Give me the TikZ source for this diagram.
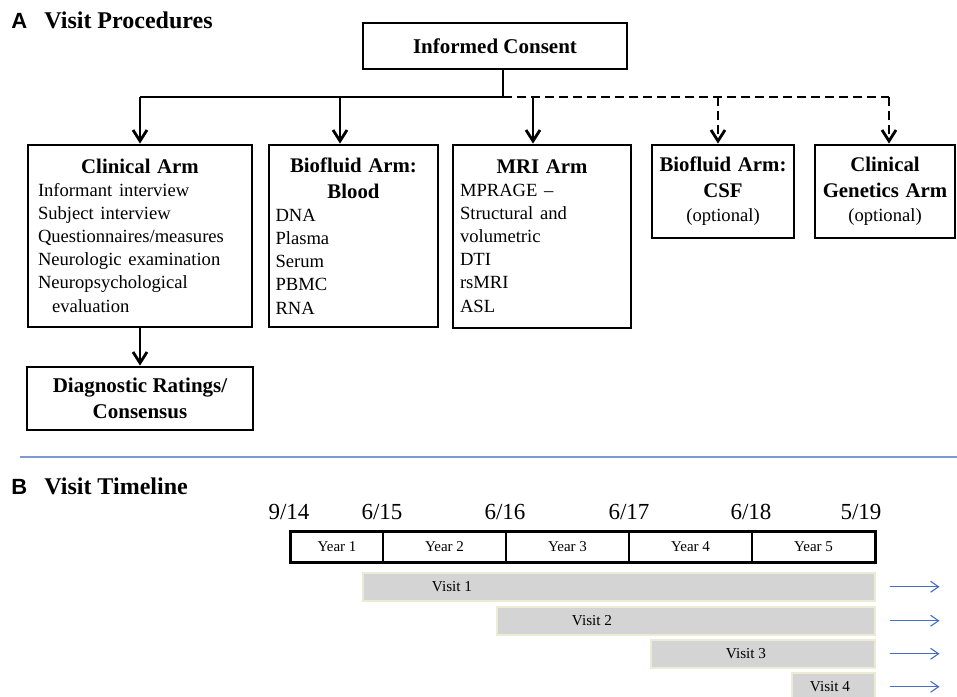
\documentclass[tikz,border=0pt]{standalone}
\usepackage{fontspec}
\setmainfont{Liberation Serif}
\newfontfamily\panelfont{Liberation Sans}
\usetikzlibrary{arrows.meta}
\usetikzlibrary{calc}

\definecolor{barfill}{RGB}{212,212,212}
\definecolor{baredge}{RGB}{236,236,214}
\definecolor{rulecol}{RGB}{125,155,210}
\definecolor{laterblue}{RGB}{70,110,195}

\newcommand{\boxtitle}{\fontsize{10.4}{13}\selectfont\bfseries}
\newcommand{\boxitem}{\fontsize{9.3}{11.5}\selectfont}

\begin{document}
\begin{tikzpicture}[x=0.5pt,y=-0.5pt,
  armbox/.style={draw, line width=1.4pt, inner xsep=3pt, inner ysep=0pt, align=left},
  flow/.style={line width=1.4pt, -{Straight Barb[length=5.5pt,width=7pt]}},
  optional/.style={dash pattern=on 4.5pt off 2.5pt},
  yearcell/.style={draw, line width=0.6pt, minimum height=15pt, inner sep=0pt, font=\fontsize{7.5}{9}\selectfont},
  visitbar/.style={draw=baredge, line width=0.75pt, fill=barfill, anchor=north west, minimum height=14pt, inner sep=0pt},
  later/.style={draw=laterblue, line width=0.55pt, -{Straight Barb[length=4pt,width=5.5pt]}}]
\useasboundingbox (0,0) rectangle (957,696);

% A: visit procedures
\node[anchor=west, inner sep=0pt, font=\panelfont\fontsize{11}{13}\selectfont\bfseries] (labA) at (11,21) {A};
\node[anchor=west, inner sep=0pt, font=\fontsize{12}{14}\selectfont\bfseries] (titleA) at (44,20) {Visit Procedures};

\node[draw, line width=1.4pt, minimum width=132pt, minimum height=23pt, font=\fontsize{10.5}{13}\selectfont\bfseries] (consent) at (495,46) {Informed Consent};

\node[armbox, minimum width=112pt, minimum height=91pt, text width=102pt] (clinical) at (140,236) {%
  {\centering\boxtitle Clinical Arm\par}\boxitem
  Informant interview\\Subject interview\\Questionnaires/measures\\Neurologic examination\\Neuropsychological\\\hspace*{7pt}evaluation};
\node[armbox, minimum width=84.5pt, minimum height=91pt, text width=78pt] (blood) at (353.5,236) {%
  {\centering\boxtitle Biofluid Arm:\\Blood\par}\boxitem
  DNA\\Plasma\\Serum\\PBMC\\RNA};
\node[armbox, minimum width=89pt, minimum height=91.5pt, text width=82pt] (mri) at (542,236.5) {%
  {\centering\boxtitle MRI Arm\par}\boxitem
  MPRAGE --\\Structural and\\volumetric\\DTI\\rsMRI\\ASL};
\node[armbox, align=center, minimum width=71pt, minimum height=46.5pt, text width=65pt] (csf) at (723,191.5) {%
  {\boxtitle Biofluid Arm:\\CSF\par}\boxitem (optional)};
\node[armbox, align=center, minimum width=70pt, minimum height=46.5pt, text width=64pt] (genetics) at (885,191.5) {%
  {\boxtitle Clinical\\Genetics Arm\par}\boxitem (optional)};

\node[draw, line width=1.4pt, minimum width=113pt, minimum height=31.5pt, align=center, font=\fontsize{10.5}{13}\selectfont\bfseries] (diag) at (140,398.5) {Diagnostic Ratings/\\Consensus};

% bus from consent to the arms
\coordinate (split) at (503,97);
\coordinate (tapblood) at (340,97);
\coordinate (tapmri) at (533,97);
\coordinate (tapcsf) at (718,97);
\coordinate (busend) at (889,97);
\draw[line width=1.4pt] (consent.south -| split) -- (split);
\draw[line width=1.4pt] (clinical.north |- split) -- (split);
\draw[line width=1.4pt, optional] (split) -- (busend);
\draw[flow] (clinical.north |- split) -- (clinical.north);
\draw[flow] (tapblood) -- (tapblood |- blood.north);
\draw[flow] (tapmri) -- (tapmri |- mri.north);
\draw[flow, optional] (tapcsf) -- (tapcsf |- csf.north);
\draw[flow, optional] (busend) -- (busend |- genetics.north);
\draw[flow] (clinical.south) -- (diag.north);

% separator
\coordinate (ruleL) at (20,457);
\coordinate (ruleR) at (957,457);
\draw[rulecol, line width=0.75pt] (ruleL) -- (ruleR);

% B: visit timeline
\node[anchor=west, inner sep=0pt, font=\panelfont\fontsize{11}{13}\selectfont\bfseries] (labB) at (11,487) {B};
\node[anchor=west, inner sep=0pt, font=\fontsize{12}{14}\selectfont\bfseries] (titleB) at (44,486) {Visit Timeline};

\foreach \d/\x in {{9/14}/289, {6/15}/382, {6/16}/505, {6/17}/629, {6/18}/751, {5/19}/861}
  \node[font=\fontsize{11.5}{14}\selectfont, inner sep=0pt] (date\x) at (\x,512) {\d};

\foreach \n/\x/\w in {1/337/46, 2/444.5/61.5, 3/567.5/61.5, 4/690.5/61.5, 5/813.5/61.5}
  \node[yearcell, minimum width=\w pt] (year\n) at (\x,547) {Year \n};
\draw[line width=1.4pt] (year1.north west) rectangle (year5.south east);

\foreach \n/\l/\t/\w/\lx in {1/362/572/256/452, 2/496/606/189/592, 3/650/639/112/746, 4/791/672/41.5/830} {
  \node[visitbar, minimum width=\w pt] (visit\n) at (\l,\t) {};
  \node[font=\fontsize{7.6}{9}\selectfont, inner sep=0pt] (vlab\n) at (\lx,{\t+14.5}) {Visit \n};
  \draw[later] ($(visit\n.east)+(14,0)$) -- ++(50,0);
}
\end{tikzpicture}
\end{document}
